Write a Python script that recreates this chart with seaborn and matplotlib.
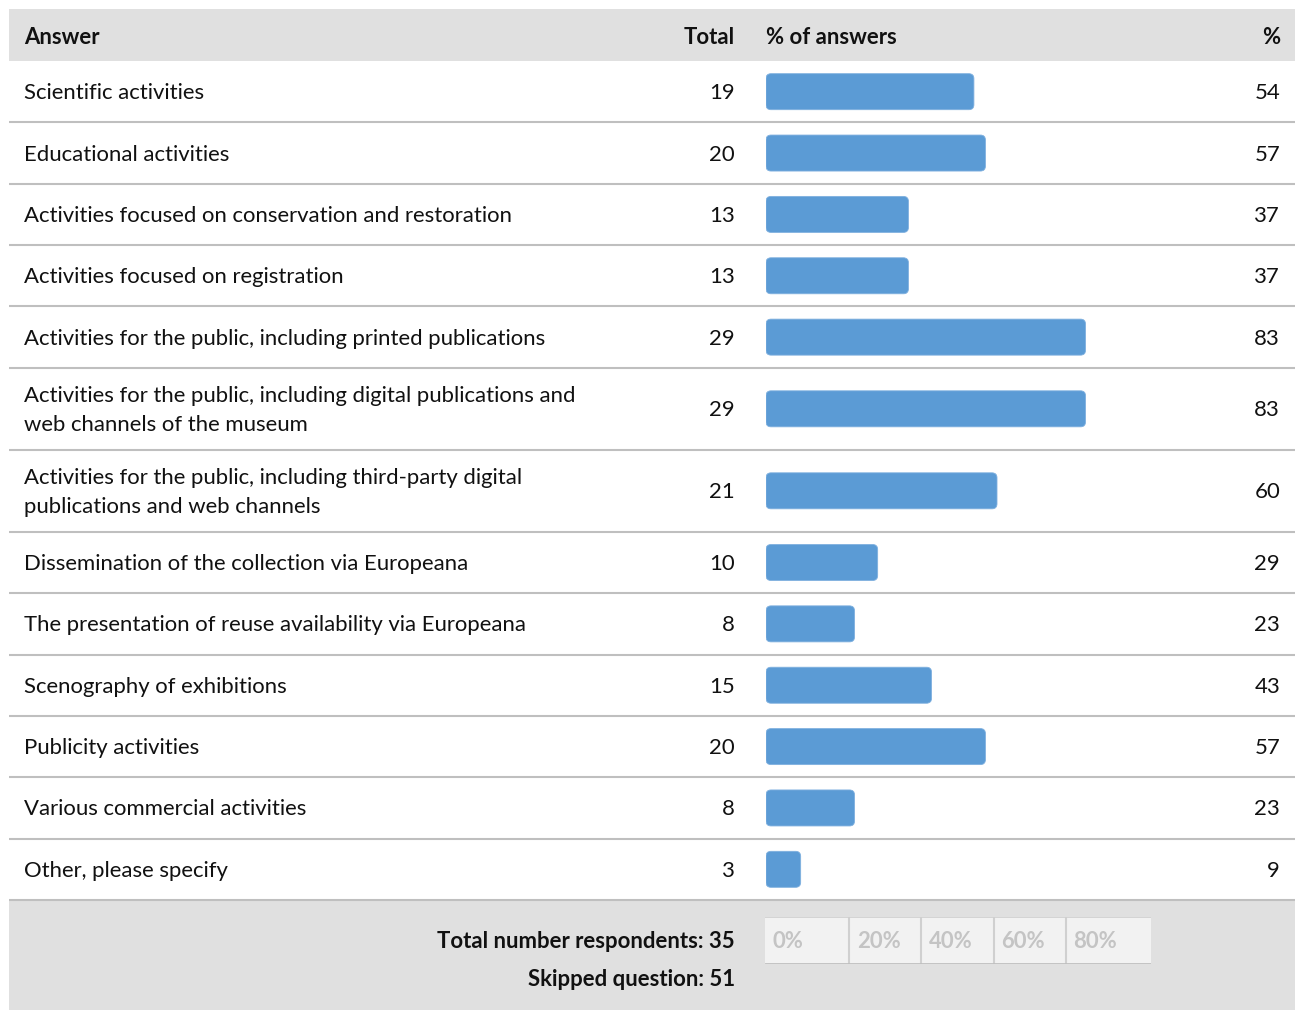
import matplotlib.pyplot as plt
from matplotlib.patches import FancyBboxPatch, Rectangle
import numpy as np
import pandas as pd
import seaborn as sns

answers = ['Scientific activities',
           'Educational activities',
           'Activities focused on conservation and restoration',
           'Activities focused on registration',
           'Activities for the public, including printed publications',
           'Activities for the public, including digital publications and\nweb channels of the museum',
           'Activities for the public, including third-party digital\npublications and web channels',
           'Dissemination of the collection via Europeana',
           'The presentation of reuse availability via Europeana',
           'Scenography of exhibitions',
           'Publicity activities',
           'Various commercial activities',
           'Other, please specify']
totals = [19, 20, 13, 13, 29, 29, 21, 10, 8, 15, 20, 8, 3]
percents = [54, 57, 37, 37, 83, 83, 60, 29, 23, 43, 57, 23, 9]
respondents = 35
skipped = 51
scale_labels = ['0%', '20%', '40%', '60%', '80%']
scale_edges = [0, 21.8, 40.5, 59.2, 77.9, 100]

sns.set_theme(style='white')
plt.rcParams['font.family'] = ['Lato', 'DejaVu Sans']

W, H = 1295, 1010
fig = plt.figure(figsize=(W / 100, H / 100), dpi=100)
base = fig.add_axes([0, 0, 1, 1])
base.set_xlim(0, W)
base.set_ylim(H, 0)
base.axis('off')

header_bg = '#e0e0e0'
line_col = '#bfbfbf'
bar_col = '#5b9bd5'
txt_col = '#111111'
fs = 15.9
dy = 1.5  # small nudge so text sits like the reference

# row layout (pixels)
top, bottom = 61, 900
left = 9
n_lines = np.array([a.count('\n') + 1 for a in answers])
heights = np.where(n_lines > 1, 82.0, 0.0)
single = (bottom - top - heights.sum()) / (n_lines == 1).sum()
heights = np.where(n_lines > 1, 82.0, single)
edges = top + np.concatenate([[0], np.cumsum(heights)])
centers = (edges[:-1] + edges[1:]) / 2

# header band
base.add_patch(Rectangle((left, 9), W - left, top - 9, fc=header_bg, ec='none'))
hy = 36 + dy
base.text(24, hy, 'Answer', fontsize=fs, fontweight='bold', va='center', ha='left', color=txt_col)
base.text(735, hy, 'Total', fontsize=fs, fontweight='bold', va='center', ha='right', color=txt_col)
base.text(766, hy, '% of answers', fontsize=fs, fontweight='bold', va='center', ha='left', color=txt_col)
base.text(1280, hy, '%', fontsize=fs, fontweight='bold', va='center', ha='right', color=txt_col)

# row text and separators
for ans, tot, pct, yc in zip(answers, totals, percents, centers):
    base.text(24, yc + dy, ans, fontsize=fs, va='center', ha='left',
              linespacing=1.55, color=txt_col)
    base.text(735, yc + dy, str(tot), fontsize=fs, va='center', ha='right', color=txt_col)
    base.text(1280, yc + dy, str(pct), fontsize=fs, va='center', ha='right', color=txt_col)
for y in edges[1:]:
    base.plot([left, W], [y, y], color=line_col, lw=1.5, solid_capstyle='butt')

# footer band
base.add_patch(Rectangle((left, bottom + 1), W - left, H - bottom, fc=header_bg, ec='none'))
base.text(735, 940 + dy, f'Total number respondents: {respondents}', fontsize=fs,
          fontweight='bold', va='center', ha='right', color=txt_col)
base.text(735, 978 + dy, f'Skipped question: {skipped}', fontsize=fs,
          fontweight='bold', va='center', ha='right', color=txt_col)

# bars
df = pd.DataFrame({'answer': answers, 'pct': percents, 'center': centers})
bax = fig.add_axes([766 / W, 1 - bottom / H, 385 / W, (bottom - top) / H])
bar_px = 36
sns.barplot(data=df, x='pct', y='center', orient='h', native_scale=True,
            width=bar_px / np.diff(np.sort(centers)).min(), color=bar_col,
            saturation=1, ax=bax)
bax.set_xlim(0, 100)
bax.set_ylim(bottom, top)
bax.axis('off')
px_per_unit = 385 / 100
for p in list(bax.patches):
    x, y, w, h = p.get_x(), p.get_y(), p.get_width(), p.get_height()
    p.remove()
    bax.add_patch(FancyBboxPatch((x, y), w, h,
                                 boxstyle='round,pad=0,rounding_size=1.3',
                                 mutation_aspect=px_per_unit,
                                 fc=bar_col, ec='#7fb0df', lw=0.6))

# footer scale
sax = fig.add_axes([765 / W, 1 - 964 / H, 386 / W, 47 / H])
sax.set_xlim(0, 100)
sax.set_ylim(0, 1)
sax.axis('off')
sax.add_patch(Rectangle((0, 0), 100, 1, fc='#f2f2f2', ec='none'))
for e in scale_edges[1:-1]:
    sax.axvline(e, color='#d0d0d0', lw=1.5)
sax.axhline(1, color='#cfcfcf', lw=1.2)
sax.axhline(0, color=line_col, lw=2)
for lab, e in zip(scale_labels, scale_edges[:-1]):
    sax.text(e + 2, 0.47, lab, fontsize=fs, fontweight='bold', color='#c4c4c4',
             va='center', ha='left')

fig.savefig('out.png', dpi=100)
